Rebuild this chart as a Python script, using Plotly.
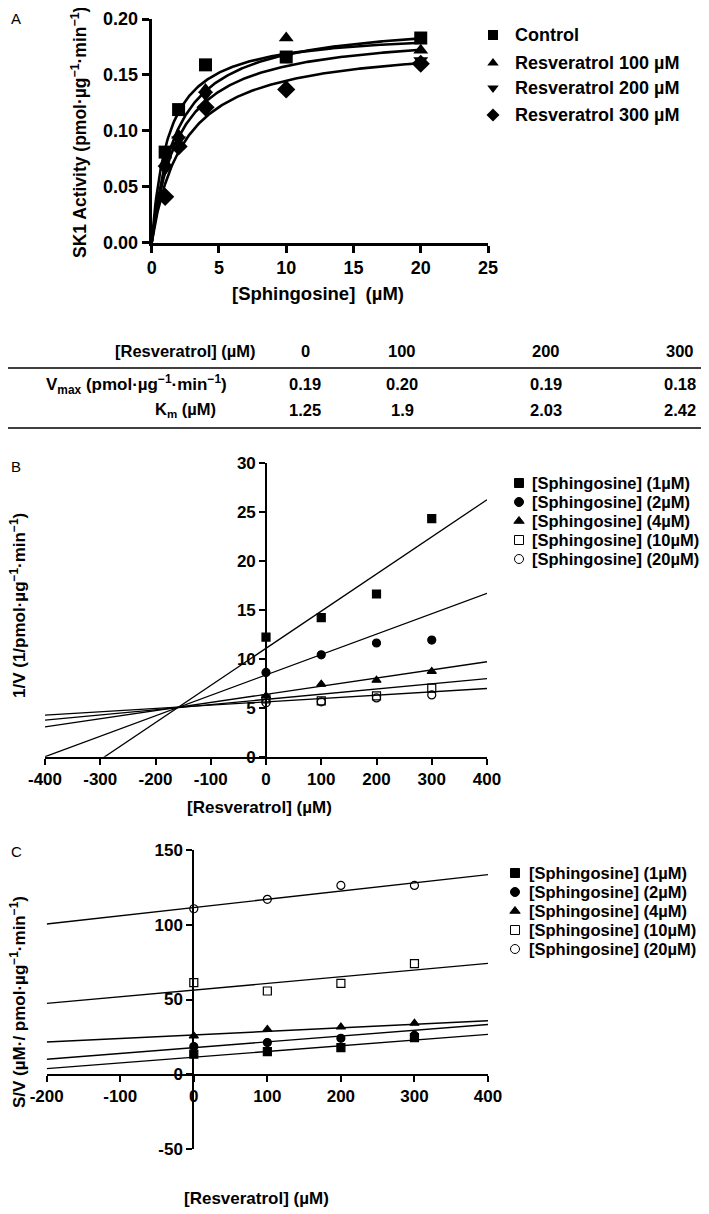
import plotly.graph_objects as go
import numpy as np

# ---------------- Panel A data ----------------
sph_conc = [1, 2, 4, 10, 20]
act_control = [0.081, 0.119, 0.159, 0.166, 0.183]
act_resv100 = [0.071, 0.096, 0.137, 0.183, 0.172]
act_resv200 = [0.066, 0.092, 0.132, 0.166, 0.163]
act_resv300 = [0.041, 0.086, 0.121, 0.137, 0.160]
series_names_A = ["Control", "Resveratrol 100 µM", "Resveratrol 200 µM", "Resveratrol 300 µM"]

# ---------------- Table ----------------
resv_levels = [0, 100, 200, 300]
vmax_vals = [0.19, 0.20, 0.19, 0.18]
km_vals = [1.25, 1.9, 2.03, 2.42]

# ---------------- Panel B data (Dixon plot) ----------------
resv_conc = [0, 100, 200, 300]
invV_1 = [12.2, 14.2, 16.6, 24.3]
invV_2 = [8.6, 10.4, 11.6, 11.9]
invV_4 = [6.2, 7.4, 7.8, 8.7]
invV_10 = [5.9, 5.7, 6.2, 7.0]
invV_20 = [5.5, 5.6, 6.0, 6.3]
fitB_intercept = [11.06, 8.34, 6.37, 5.85, 5.60]
fitB_slope = [0.0379, 0.02085, 0.0083, 0.0053, 0.0034]

# ---------------- Panel C data (Cornish-Bowden) ----------------
sv_1 = [13.4, 15.2, 17.8, 24.5]
sv_2 = [18.5, 21.2, 24.0, 26.0]
sv_4 = [25.6, 30.0, 31.6, 34.1]
sv_10 = [61.3, 55.7, 60.8, 74.0]
sv_20 = [110.7, 117.0, 126.3, 126.3]
fitC_intercept = [11.4, 17.8, 26.3, 56.3, 111.5]
fitC_slope = [0.0382, 0.0388, 0.0236, 0.0446, 0.055]
series_names_BC = ["[Sphingosine] (1µM)", "[Sphingosine] (2µM)", "[Sphingosine] (4µM)",
                   "[Sphingosine] (10µM)", "[Sphingosine] (20µM)"]

# tick labels
tickA_x = [0, 5, 10, 15, 20, 25]
tickA_y = [0.00, 0.05, 0.10, 0.15, 0.20]
tickB_x = [-400, -300, -200, -100, 0, 100, 200, 300, 400]
tickB_y = [0, 5, 10, 15, 20, 25, 30]
tickC_x = [-200, -100, 0, 100, 200, 300, 400]
tickC_y = [-50, 0, 50, 100, 150]

# ---------------- layout helpers ----------------
W, H = 709, 1214
OFF = 8
FONT = "Liberation Sans, Arial, sans-serif"


def px(sx):
    return (sx - OFF) / W


def py(sy):
    return 1 - (sy - OFF) / H


fig = go.Figure()

# ---------- Panel A ----------
symA = ["square", "triangle-up", "triangle-down", "diamond"]
dataA = [act_control, act_resv100, act_resv200, act_resv300]
xs = np.linspace(0, 20, 300)
for vm, km in zip(vmax_vals, km_vals):
    fig.add_trace(go.Scatter(x=xs, y=vm * xs / (km + xs), mode="lines",
                             line=dict(color="black", width=2.6),
                             xaxis="x", yaxis="y", showlegend=False, hoverinfo="skip"))
for d, s in zip(dataA, symA):
    fig.add_trace(go.Scatter(x=sph_conc, y=d, mode="markers",
                             marker=dict(symbol=s, size=13 if s != "diamond" else 14, color="black"),
                             xaxis="x", yaxis="y", showlegend=False, cliponaxis=False))

# ---------- Panel B ----------
symBC = ["square", "circle", "triangle-up", "square-open", "circle-open"]
dataB = [invV_1, invV_2, invV_4, invV_10, invV_20]
xl = np.array([-400, 400])
for a, b in zip(fitB_intercept, fitB_slope):
    fig.add_trace(go.Scatter(x=xl, y=a + b * xl, mode="lines",
                             line=dict(color="black", width=1.3),
                             xaxis="x2", yaxis="y2", showlegend=False))
for d, s in zip(dataB, symBC):
    fig.add_trace(go.Scatter(x=resv_conc, y=d, mode="markers",
                             marker=dict(symbol=s, size=8, color="black", line=dict(color="black", width=1.2)),
                             xaxis="x2", yaxis="y2", showlegend=False, cliponaxis=False))

# ---------- Panel C ----------
dataC = [sv_1, sv_2, sv_4, sv_10, sv_20]
xl = np.array([-200, 400])
for a, b in zip(fitC_intercept, fitC_slope):
    fig.add_trace(go.Scatter(x=xl, y=a + b * xl, mode="lines",
                             line=dict(color="black", width=1.4),
                             xaxis="x3", yaxis="y3", showlegend=False))
for d, s in zip(dataC, symBC):
    fig.add_trace(go.Scatter(x=resv_conc, y=d, mode="markers",
                             marker=dict(symbol=s, size=8, color="black", line=dict(color="black", width=1.2)),
                             xaxis="x3", yaxis="y3", showlegend=False, cliponaxis=False))

# ---------- legends (overlay axes in screen pixels) ----------
legA_rows = [35, 63, 88, 115]
for s, yy in zip(symA, legA_rows):
    fig.add_trace(go.Scatter(x=[493], y=[yy], mode="markers",
                             marker=dict(symbol=s, size=10, color="black"),
                             xaxis="x4", yaxis="y4", showlegend=False, cliponaxis=False))
legB_rows = [483, 502, 521, 540, 559]
legC_rows = [873, 892, 911, 930, 949]
for s, yb, yc in zip(symBC, legB_rows, legC_rows):
    for xx, yy in ((519, yb), (515, yc)):
        fig.add_trace(go.Scatter(x=[xx], y=[yy], mode="markers",
                                 marker=dict(symbol=s, size=9, color="black", line=dict(color="black", width=1)),
                                 xaxis="x4", yaxis="y4", showlegend=False, cliponaxis=False))

ann = []


def text(x, y, t, size=16, bold=True, xanchor="center", angle=0):
    ann.append(dict(x=px(x), y=py(y), xref="paper", yref="paper", text=t, showarrow=False,
                    xanchor=xanchor, yanchor="middle", textangle=angle,
                    font=dict(family=FONT, size=size, color="black",
                              weight="bold" if bold else "normal")))


# panel labels
text(9, 19, "A", 15, False, "left")
text(9, 467, "B", 15, False, "left")
text(9, 851, "C", 15, False, "left")

# Panel A titles and legend
text(79, 133, "SK1 Activity (pmol·µg<sup>−1</sup>·min<sup>−1</sup>)", 17.5, angle=-90)
text(318, 293, "[Sphingosine]  (µM)", 18.5)
for n, yy in zip(series_names_A, legA_rows):
    text(513, yy, n, 18, xanchor="left")

# Table
col_x = [305, 402, 546, 680]
text(185, 351, "[Resveratrol] (µM)", 16.5)
text(136, 384, "V<sub>max</sub> (pmol·µg<sup>−1</sup>·min<sup>−1</sup>)", 17)
text(185, 410, "K<sub>m</sub> (µM)", 16.5)
for cx, r, v, k in zip(col_x, resv_levels, vmax_vals, km_vals):
    text(cx, 351, str(r), 16.5)
    text(cx, 384, f"{v:.2f}", 16.5)
    text(cx, 410, str(k), 16.5)

# Panel B titles and legend
text(18, 606, "1/V (1/pmol·µg<sup>−1</sup>·min<sup>−1</sup>)", 17, angle=-90)
text(259, 808, "[Resveratrol] (µM)", 17)
for n, yy in zip(series_names_BC, legB_rows):
    text(530, yy, n, 16.5, xanchor="left")

# Panel C titles and legend
text(18, 1002, "S/V (µM·/ pmol·µg<sup>−1</sup>·min<sup>−1</sup>)", 17, angle=-90)
text(256, 1198, "[Resveratrol] (µM)", 17)
for n, yy in zip(series_names_BC, legC_rows):
    text(527, yy, n, 16.5, xanchor="left")

shapes = [
    dict(type="line", xref="paper", yref="paper", x0=px(0), x1=px(720), y0=py(368), y1=py(368),
         line=dict(color="black", width=1.6)),
    dict(type="line", xref="paper", yref="paper", x0=px(0), x1=px(720), y0=py(428), y1=py(428),
         line=dict(color="black", width=1.6)),
]

tickA = dict(family=FONT, size=18, color="black", weight="bold")
tickBC = dict(family=FONT, size=17, color="black", weight="bold")
common = dict(showgrid=False, zeroline=False, showline=True, linecolor="black",
              ticks="outside", tickcolor="black", fixedrange=True, automargin=False)

fig.update_layout(
    width=W, height=H, autosize=False,
    margin=dict(l=0, r=0, t=0, b=0, pad=0),
    paper_bgcolor="white", plot_bgcolor="rgba(0,0,0,0)",
    showlegend=False,
    annotations=ann, shapes=shapes,
    xaxis=dict(domain=[px(151.7), px(488)], range=[0, 25], tickvals=tickA_x,
               ticktext=[str(v) for v in tickA_x], anchor="y", tickfont=tickA,
               linewidth=3, tickwidth=3, ticklen=7, **common),
    yaxis=dict(domain=[py(242.7), py(19)], range=[0, 0.2], tickvals=tickA_y,
               ticktext=[f"{v:.2f}" for v in tickA_y], anchor="x", tickfont=tickA,
               linewidth=3, tickwidth=3, ticklen=7, **common),
    xaxis2=dict(domain=[px(45), px(487)], range=[-400, 400], tickvals=tickB_x,
                ticktext=[str(v) for v in tickB_x], anchor="y2", tickfont=tickBC,
                linewidth=2, tickwidth=2, ticklen=6, **common),
    yaxis2=dict(domain=[py(756.7), py(462.7)], range=[0, 30], tickvals=tickB_y,
                ticktext=[str(v) for v in tickB_y], anchor="free", position=px(266.2),
                tickfont=tickBC, linewidth=2, tickwidth=2, ticklen=6, **common),
    xaxis3=dict(domain=[px(46.7), px(488)], range=[-200, 400], tickvals=tickC_x,
                ticktext=[str(v) for v in tickC_x], anchor="free", position=py(1075),
                tickfont=tickBC, linewidth=2, tickwidth=2, ticklen=6, **common),
    yaxis3=dict(domain=[py(1149), py(850)], range=[-50, 150], tickvals=tickC_y,
                ticktext=[str(v) for v in tickC_y], anchor="free", position=px(193.3),
                tickfont=tickBC, linewidth=2, tickwidth=2, ticklen=6, **common),
    xaxis4=dict(domain=[0, 1], range=[OFF, OFF + W], visible=False, fixedrange=True,
                anchor="y4", automargin=False),
    yaxis4=dict(domain=[0, 1], range=[OFF + H, OFF], visible=False, fixedrange=True,
                anchor="x4", automargin=False),
)

fig.write_html("out.html")
